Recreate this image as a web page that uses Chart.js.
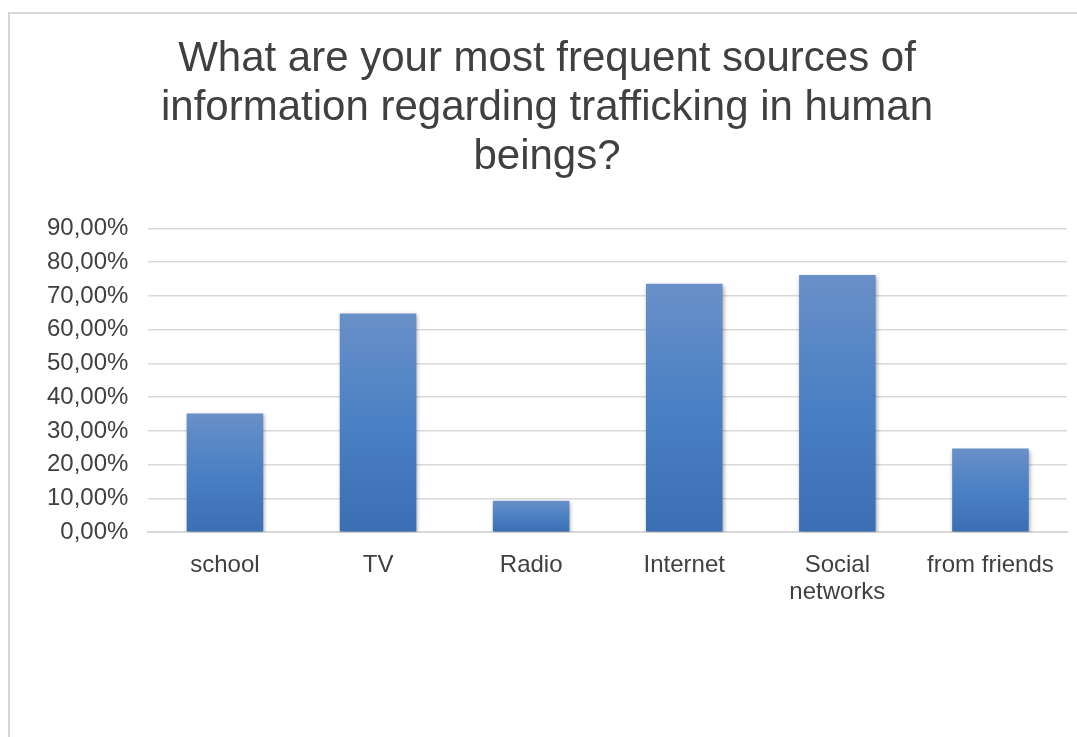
<!DOCTYPE html>
<html>
<head>
<meta charset="utf-8">
<script src="https://cdn.jsdelivr.net/npm/chart.js@4"></script>
<style>
  body { margin: 0; background: #fff; overflow: hidden; }
  #frame {
    position: absolute; left: 8px; top: 12px;
    width: 1100px; height: 760px;
    border-left: 2px solid #d4d4d4; border-top: 2px solid #d9d9d9;
  }
  canvas { position: absolute; left: 0; top: 0; }
</style>
</head>
<body>
<div id="frame"><canvas id="chart" width="1082" height="723"></canvas></div>
<script>
const categories = ["school", "TV", "Radio", "Internet", ["Social", "networks"], "from friends"];
const shares = [0.352, 0.648, 0.093, 0.736, 0.762, 0.248];
const yTicks = [0, 0.1, 0.2, 0.3, 0.4, 0.5, 0.6, 0.7, 0.8, 0.9];
const titleLines = ["What are your most frequent sources of", "information regarding trafficking in human", "beings?"];

// each bar gets its own top-to-bottom gradient, plus a soft shadow
const barLook = {
  id: "barLook",
  beforeDatasetsDraw(chart) {
    const ctx = chart.ctx;
    chart.getDatasetMeta(0).data.forEach(bar => {
      const g = ctx.createLinearGradient(0, bar.y, 0, bar.base);
      g.addColorStop(0, "#6990c8");
      g.addColorStop(0.5, "#4a80c4");
      g.addColorStop(1, "#3b6fb3");
      // options are shared between bars, so give each one its own copy
      bar.options = Object.assign({}, bar.options, { backgroundColor: g });
    });
    ctx.save();
    ctx.shadowColor = "rgba(0,0,0,0.35)";
    ctx.shadowBlur = 4;
    ctx.shadowOffsetX = 1;
    ctx.shadowOffsetY = 2;
  },
  afterDatasetsDraw(chart) {
    chart.ctx.restore();
  }
};

function pct(v) {
  return (v * 100).toFixed(2).replace(".", ",") + "%";
}

const ctx = document.getElementById("chart").getContext("2d");
new Chart(ctx, {
  type: "bar",
  data: {
    labels: categories,
    datasets: [{
      data: shares,
      backgroundColor: "#4a80c4",
      categoryPercentage: 1,
      barPercentage: 0.5
    }]
  },
  plugins: [barLook],
  options: {
    responsive: false,
    animation: false,
    layout: { padding: { left: 17, right: 25, top: 0, bottom: 111 } },
    plugins: {
      legend: { display: false },
      tooltip: { enabled: false },
      title: {
        display: true,
        text: titleLines,
        color: "#404040",
        font: { family: "Liberation Sans", size: 42, weight: "normal", lineHeight: 1.17 },
        padding: { top: 21, bottom: 46 }
      }
    },
    scales: {
      x: {
        grid: { display: false, drawTicks: false },
        border: { color: "#d9d9d9", width: 2 },
        ticks: {
          color: "#404040",
          font: { family: "Liberation Sans", size: 24, lineHeight: 1.12 },
          padding: 20,
          maxRotation: 0
        }
      },
      y: {
        min: 0,
        max: 0.9,
        afterBuildTicks: axis => { axis.ticks = yTicks.map(v => ({ value: v })); },
        grid: { color: "#d9d9d9", lineWidth: 1.5, drawTicks: false },
        border: { display: false },
        ticks: {
          color: "#404040",
          font: { family: "Liberation Sans", size: 24 },
          padding: 20,
          callback: v => pct(v)
        }
      }
    }
  }
});
</script>
</body>
</html>
